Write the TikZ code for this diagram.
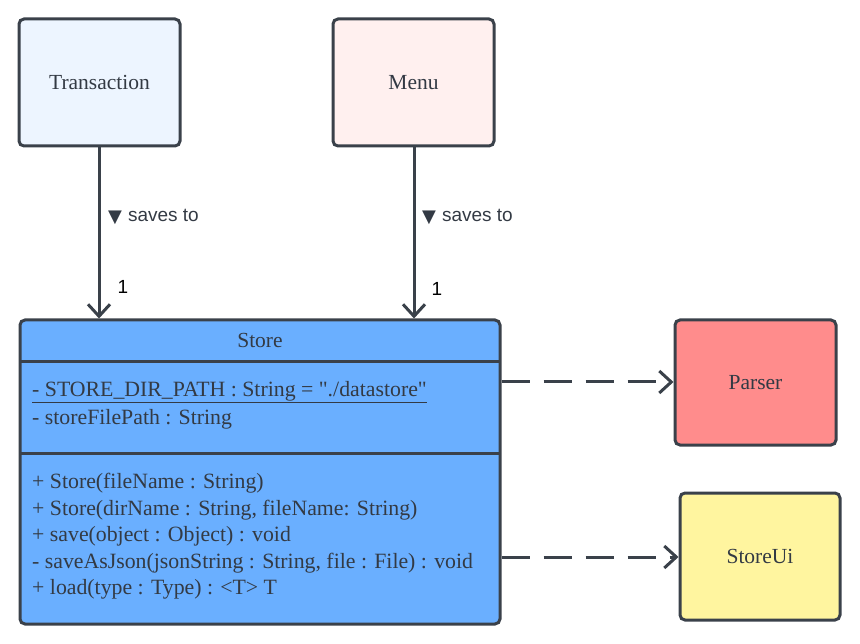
\documentclass[tikz,border=0pt]{standalone}
\usepackage{fontspec}
\setmainfont{Liberation Serif}
\newfontfamily\labelfont{Liberation Sans}
\newfontfamily\symfont{DejaVu Sans}
\usetikzlibrary{arrows.meta}
\definecolor{edge}{HTML}{3A414A}
\definecolor{txt}{HTML}{333A44}
\definecolor{transfill}{HTML}{EDF5FF}
\definecolor{menufill}{HTML}{FFF0EF}
\definecolor{storefill}{HTML}{6AAFFF}
\definecolor{parserfill}{HTML}{FF8C8C}
\definecolor{uifill}{HTML}{FFF59F}
\tikzset{
  classbox/.style={draw=edge, line width=3pt, rounded corners=5pt, inner sep=0pt, text=txt, font=\fontsize{21.5}{24}\selectfont},
  member/.style={anchor=west, inner sep=0pt, text=txt, font=\fontsize{21.8}{24}\selectfont},
  conn/.style={draw=edge, line width=3pt, -{Straight Barb[length=12pt,width=22pt,line width=3pt]}},
  dep/.style={draw=edge, line width=3pt, dash pattern=on 28pt off 14pt, -{Straight Barb[length=12pt,width=22pt,line width=3pt]}},
  lbl/.style={anchor=west, inner sep=0pt, text=txt, font=\labelfont\fontsize{19}{20}\selectfont},
  mult/.style={inner sep=0pt, text=black, font=\labelfont\fontsize{19}{20}\selectfont}
}
\begin{document}
\begin{tikzpicture}[x=1pt,y=-1pt]
\useasboundingbox (0,0) rectangle (860,644);
\node[classbox, fill=transfill, minimum width=161pt, minimum height=127pt] (trans) at (99.5,82.5) {Transaction};
\node[classbox, fill=menufill, minimum width=161pt, minimum height=127pt] (menu) at (413.5,82.5) {Menu};
\node[classbox, fill=storefill, minimum width=480pt, minimum height=304pt] (store) at (260,472) {};
\node[inner sep=0pt, text=txt, font=\fontsize{21.5}{24}\selectfont] (storename) at (260,340) {Store};
\draw[edge, line width=3pt] (20,362) -- (500,362);
\draw[edge, line width=3pt] (20,453) -- (500,453);
\node[member] (a1) at (32,392) {\underline{- STORE\_DIR\_PATH : String = \textquotedbl./datastore\textquotedbl}};
\node[member] (a2) at (32,419) {- storeFilePath : String};
\node[member] (m1) at (32,483) {+ Store(fileName : String)};
\node[member] (m2) at (32,510) {+ Store(dirName : String, fileName: String)};
\node[member] (m3) at (32,536) {+ save(object : Object) : void};
\node[member] (m4) at (32,563) {- saveAsJson(jsonString : String, file : File) : void};
\node[member] (m5) at (32,589) {+ load(type : Type) : <T> T};
\node[classbox, fill=parserfill, minimum width=161pt, minimum height=125pt] (parser) at (755.5,382.5) {Parser};
\node[classbox, fill=uifill, minimum width=160pt, minimum height=127pt] (ui) at (760,556.5) {StoreUi};
\draw[conn] (trans.south -| 99,0) -- (store.north -| 99,0);
\draw[conn] (menu.south -| 414,0) -- (store.north -| 414,0);
\node[lbl] (l1) at (108,217) {\raisebox{-1pt}{\symfont\fontsize{18}{18}\selectfont ▼}\hspace{6pt}saves to};
\node[lbl] (l2) at (422,217) {\raisebox{-1pt}{\symfont\fontsize{18}{18}\selectfont ▼}\hspace{6pt}saves to};
\node[mult] (n1) at (123,287) {1};
\node[mult] (n2) at (437,289) {1};
\draw[dep] (store.east |- 0,382) -- (parser.west |- 0,382);
\draw[dep] (store.east |- 0,557) -- (ui.west |- 0,557);
\end{tikzpicture}
\end{document}
